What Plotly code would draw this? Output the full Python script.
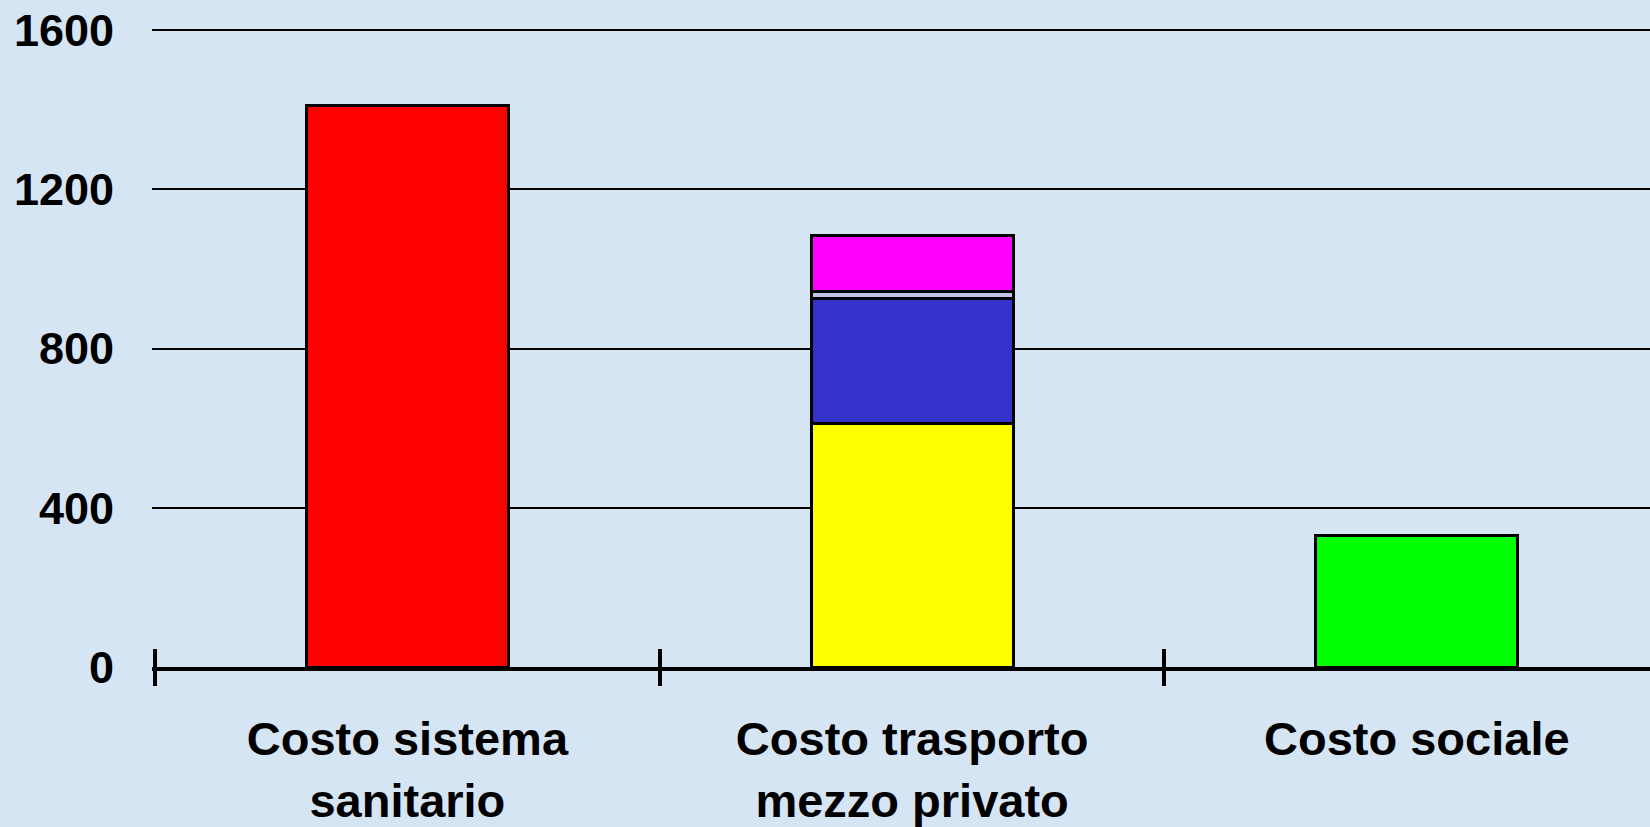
import plotly.graph_objects as go

categories = ["Costo sistema<br>sanitario", "Costo trasporto<br>mezzo privato", "Costo sociale"]

sanitario = [1410, None, None]
trasporto_giallo = [None, 613, None]
trasporto_blu = [None, 312, None]
trasporto_chiaro = [None, 18, None]
trasporto_magenta = [None, 141, None]
sociale = [None, None, 330]

y_ticks = [0, 400, 800, 1200, 1600]
boundary_ticks = [-0.5, 0.5, 1.5]

series = [
    (sanitario, "#FF0000"),
    (trasporto_giallo, "#FFFF00"),
    (trasporto_blu, "#3333CC"),
    (trasporto_chiaro, "#C4C4E6"),
    (trasporto_magenta, "#FF00FF"),
    (sociale, "#00FF00"),
]

fig = go.Figure()
for vals, col in series:
    fig.add_trace(go.Bar(
        x=categories, y=vals, width=0.4,
        marker=dict(color=col, line=dict(color="black", width=3)),
        showlegend=False, hoverinfo="skip",
    ))

# invisible helper traces so the overlay tick axes are drawn
for ax in ["x2", "x3"]:
    fig.add_trace(go.Scatter(
        x=[boundary_ticks[0]], y=[0], xaxis=ax, yaxis="y",
        mode="none", showlegend=False, hoverinfo="skip",
    ))

font_family = "Liberation Sans, Arial, sans-serif"
bg = "#D6E5F4"
xr = [-0.506, 2.462]

fig.update_layout(
    width=1650, height=827,
    margin=dict(l=152, r=0, t=29, b=158),
    paper_bgcolor=bg, plot_bgcolor=bg,
    barmode="stack",
    font=dict(family=font_family, color="black"),
    xaxis=dict(
        type="category", range=xr,
        showline=True, linecolor="black", linewidth=4,
        showgrid=False, zeroline=False,
        ticks="", tickson="boundaries",
        tickfont=dict(size=47, weight="bold", family=font_family),
        ticklabelstandoff=28,
    ),
    xaxis2=dict(
        overlaying="x", anchor="y", range=xr, type="linear",
        tickmode="array", tickvals=boundary_ticks,
        ticks="outside", ticklen=18, tickwidth=4, tickcolor="black",
        showticklabels=False, showgrid=False, zeroline=False, showline=False,
        side="bottom",
    ),
    xaxis3=dict(
        overlaying="x", anchor="y", range=xr, type="linear",
        tickmode="array", tickvals=boundary_ticks,
        ticks="inside", ticklen=18, tickwidth=4, tickcolor="black",
        showticklabels=False, showgrid=False, zeroline=False, showline=False,
        side="bottom",
    ),
    yaxis=dict(
        range=[0, 1603], tickmode="array", tickvals=y_ticks,
        showgrid=True, gridcolor="black", gridwidth=1.5,
        zeroline=False, showline=False, ticks="",
        tickfont=dict(size=45, weight="bold", family=font_family),
        ticklabelstandoff=37,
    ),
)

fig.write_html(
    "out.html",
    config={"displayModeBar": False},
    post_script="document.body.style.margin='0';",
)
